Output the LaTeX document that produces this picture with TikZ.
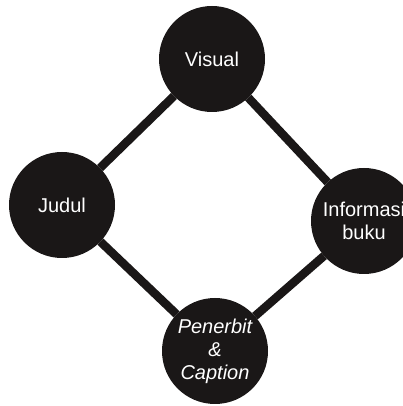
\documentclass[tikz,border=0pt]{standalone}
\usepackage{fontspec}
\setmainfont{Liberation Sans}
\definecolor{ink}{RGB}{26,23,23}
\begin{document}
\begin{tikzpicture}[x=1pt,y=1pt,
  topic/.style={circle,fill=ink,minimum size=106pt,inner sep=0pt,outer sep=0pt,
    text=white,align=center,font=\fontsize{20}{23}\selectfont},
  link/.style={draw=ink,line width=8.5pt}]
\useasboundingbox (0,0) rectangle (403,406);
\node[topic] (vis) at (212,347) {Visual};
\node[topic] (jud) at (62,201) {Judul};
\node[topic] (inf) at (364,185) {Informasi\\buku};
\node[topic] (pen) at (215,55) {\itshape Penerbit\\\itshape \&\\\itshape Caption};
\draw[link] (vis) -- (jud);
\draw[link] (vis) -- (inf);
\draw[link] (jud) -- (pen);
\draw[link] (inf) -- (pen);
\end{tikzpicture}
\end{document}
